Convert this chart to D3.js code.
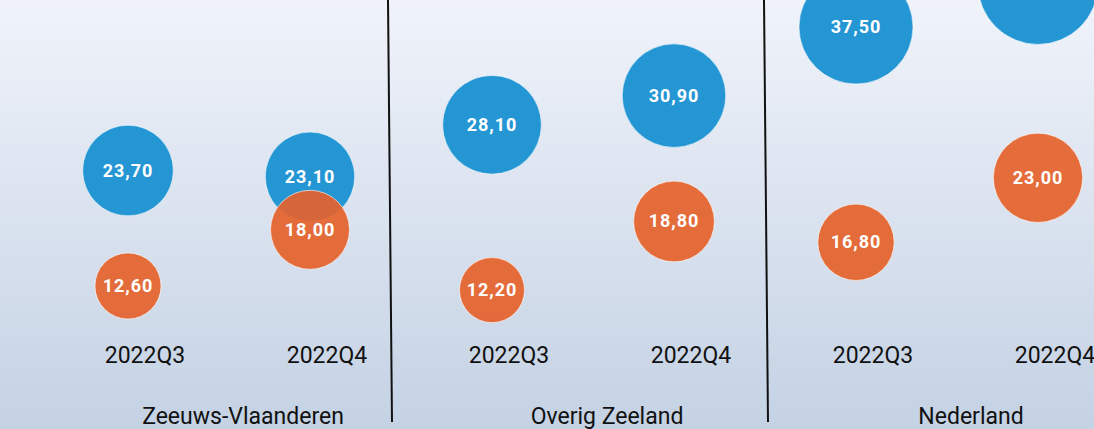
<!DOCTYPE html>
<html>
<head>
    <meta charset="utf-8">
    <title>bubbles</title>
    <script src="https://cdn.jsdelivr.net/npm/d3@7"></script>
    <style>
        body { margin: 0; }
    </style>
</head>
<body>
    <script>
        const width = 1094;
        const height = 429;

        // data
        const groups = ["Zeeuws-Vlaanderen", "Overig Zeeland", "Nederland"];
        const periods = ["2022Q3", "2022Q4"];
        const blueValues = [23.7, 23.1, 28.1, 30.9, 37.5, 41.6];
        const orangeValues = [12.6, 18.0, 12.2, 18.8, 16.8, 23.0];

        const keys = groups.flatMap(g => periods.map(p => g + "|" + p));
        const fmt = v => d3.format(".2f")(v).replace(".", ",");

        const svg = d3.select("body").append("svg")
            .attr("width", width)
            .attr("height", height)
            .style("font-family", "Roboto, sans-serif");

        const grad = svg.append("defs").append("linearGradient")
            .attr("id", "bg").attr("x1", 0).attr("y1", 0).attr("x2", 0).attr("y2", 1);
        grad.append("stop").attr("offset", "0%").attr("stop-color", "#f0f3fa");
        grad.append("stop").attr("offset", "100%").attr("stop-color", "#c4d2e4");

        svg.append("rect").attr("width", width).attr("height", height).attr("fill", "url(#bg)");

        let x = d3.scalePoint().domain(keys).range([128, 1038]);
        let y = d3.scaleLinear().domain([0, 40]).range([417, 1]);
        let r = d3.scaleSqrt().domain([0, 40]).range([0, 58.9]);
        let gx = d3.scaleBand().domain(groups).range([14, 1142]);

        // group separators
        svg.append("g").selectAll("line")
            .data(groups.slice(1))
            .enter().append("line")
            .attr("x1", d => gx(d) - 2)
            .attr("x2", d => gx(d) + 2)
            .attr("y1", 0)
            .attr("y2", 422)
            .attr("stroke", "#111")
            .attr("stroke-width", 2);

        // period tick labels
        svg.append("g").selectAll("text")
            .data(keys)
            .enter().append("text")
            .attr("x", d => x(d) + 17)
            .attr("y", 363)
            .attr("text-anchor", "middle")
            .attr("font-size", 23)
            .attr("fill", "#111")
            .text(d => d.split("|")[1]);

        // group labels
        svg.append("g").selectAll("text")
            .data(groups)
            .enter().append("text")
            .attr("x", d => (x(d + "|" + periods[0]) + x(d + "|" + periods[1])) / 2 + 24)
            .attr("y", 424)
            .attr("text-anchor", "middle")
            .attr("font-size", 23)
            .attr("fill", "#111")
            .text(d => d);

        function bubbles(values, color, opacity) {
            const g = svg.append("g");
            g.selectAll("circle")
                .data(values)
                .enter().append("circle")
                .attr("cx", (d, i) => x(keys[i]))
                .attr("cy", d => y(d))
                .attr("r", d => r(d))
                .attr("fill", color)
                .attr("fill-opacity", opacity)
                .attr("stroke", "#fff")
                .attr("stroke-opacity", 0.6)
                .attr("stroke-width", 1);
            g.selectAll("text")
                .data(values)
                .enter().append("text")
                .attr("x", (d, i) => x(keys[i]))
                .attr("y", d => y(d) + 6)
                .attr("text-anchor", "middle")
                .attr("font-size", 18)
                .attr("font-weight", "bold")
                .attr("letter-spacing", 1)
                .attr("fill", "#fff")
                .text(d => fmt(d));
        }

        bubbles(blueValues, "#2596d4", 1);
        bubbles(orangeValues, "#e5622b", 0.92);
    </script>
</body>
</html>
